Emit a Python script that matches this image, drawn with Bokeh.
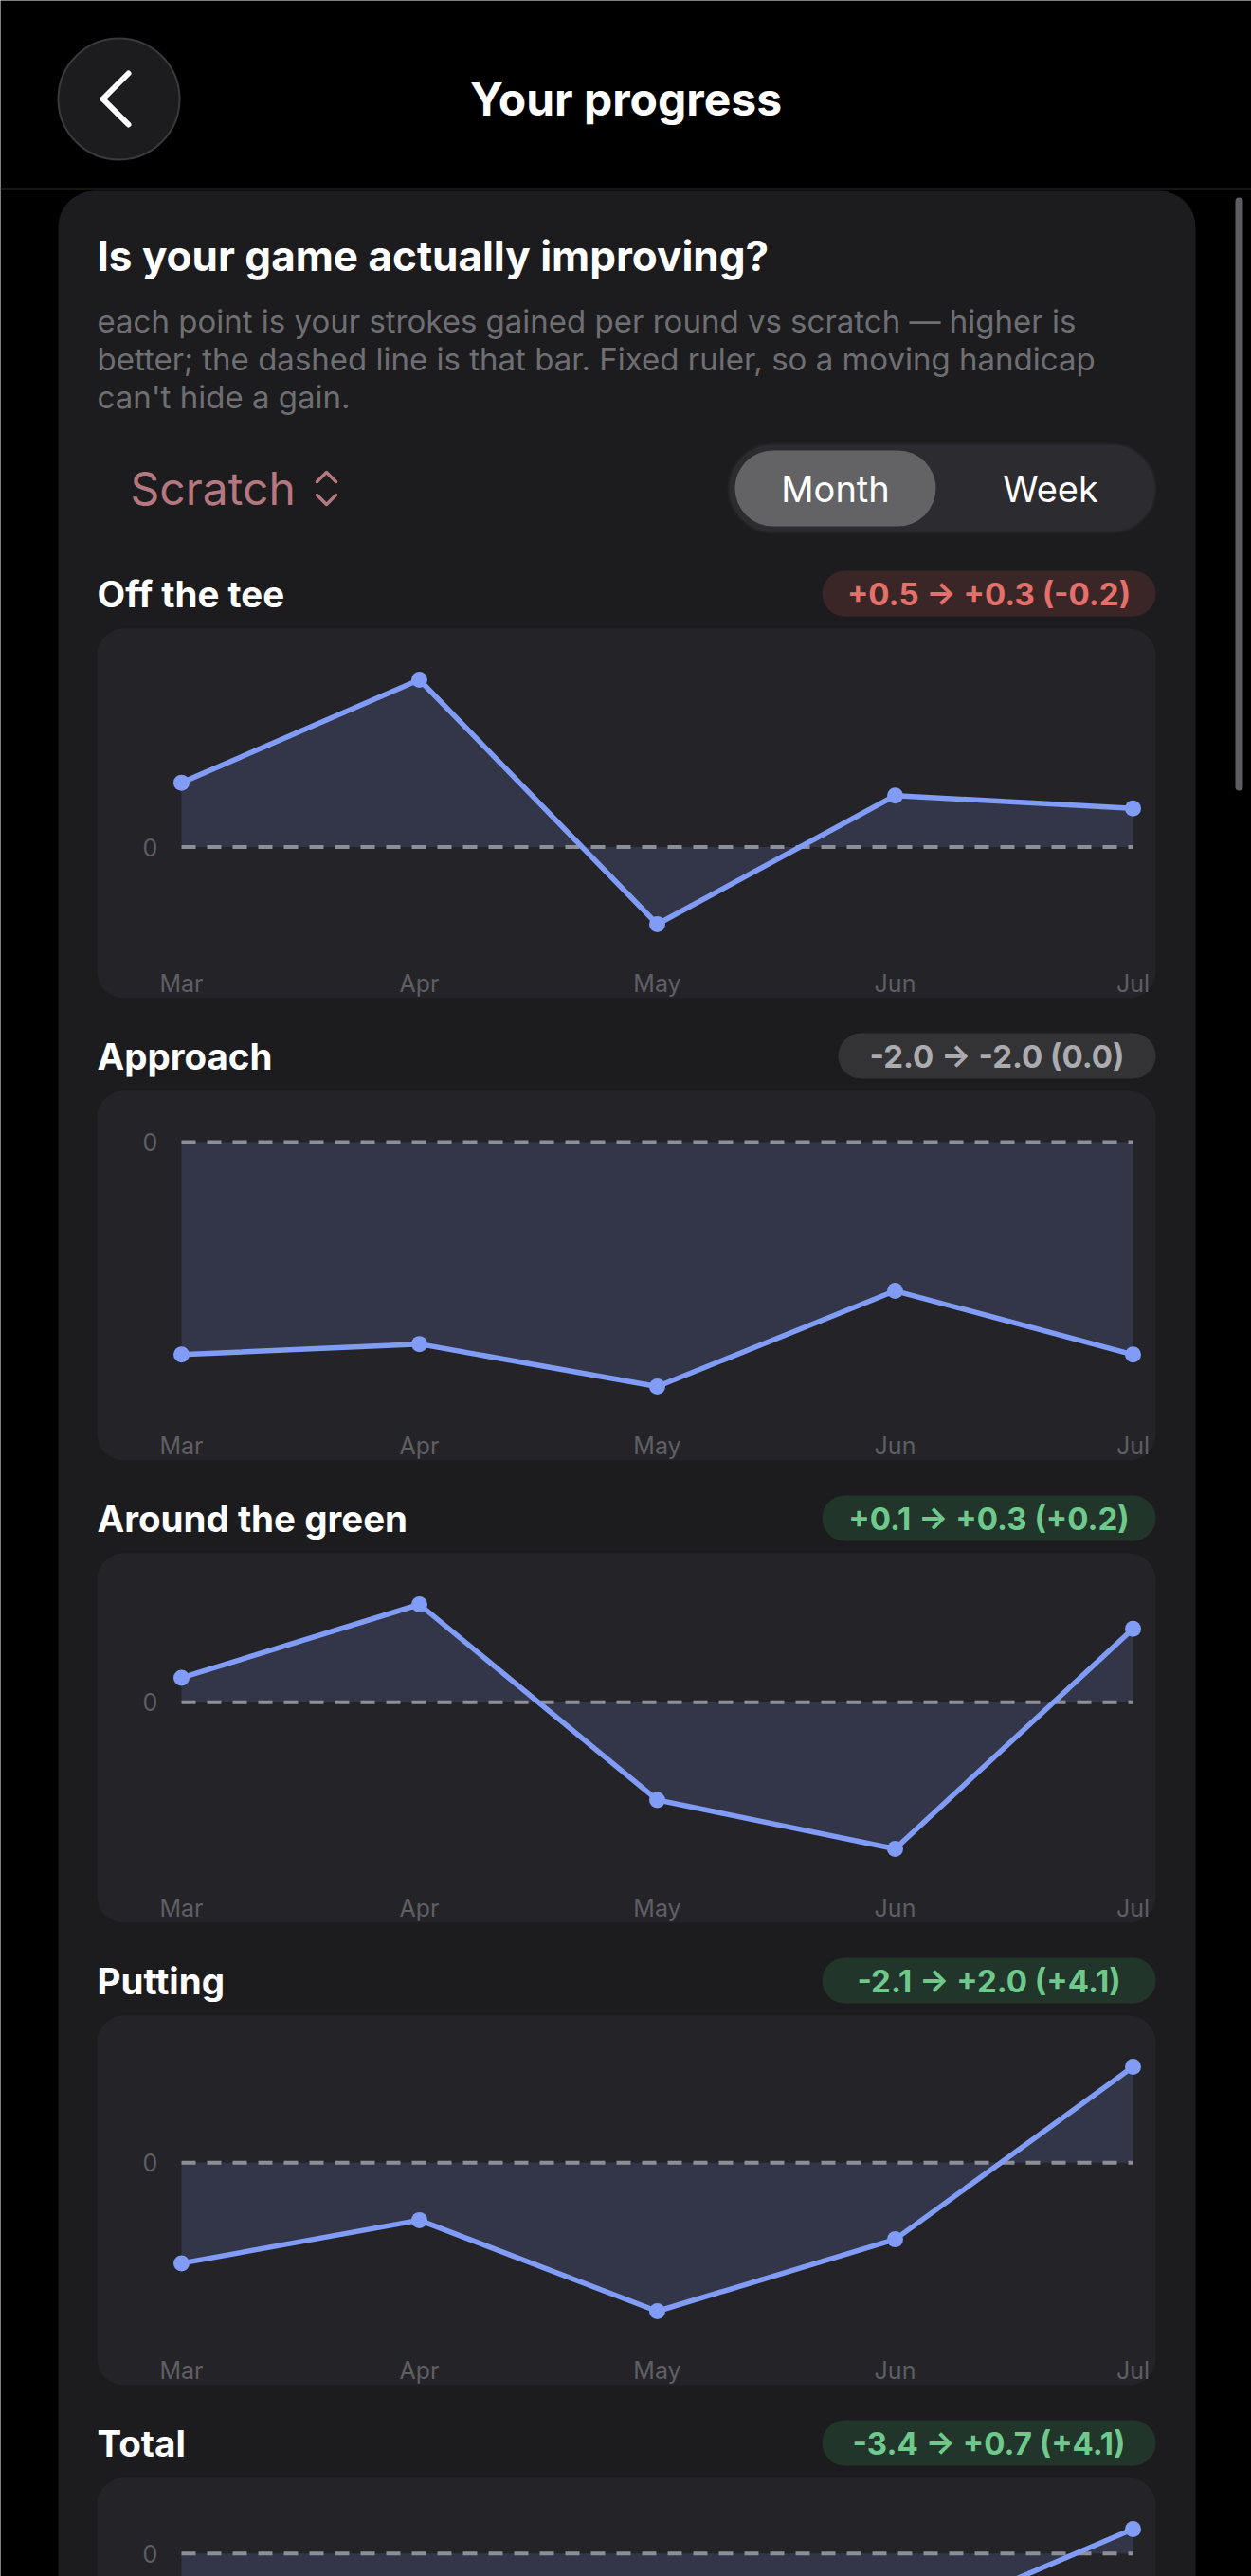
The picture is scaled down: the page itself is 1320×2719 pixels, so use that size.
from bokeh.plotting import figure
from bokeh.models import Range1d
from bokeh.embed import file_html
from bokeh.resources import INLINE
from bokeh.core.properties import value

# ---------------- data ----------------
months = ["Mar", "Apr", "May", "Jun", "Jul"]
section_names = ["Off the tee", "Approach", "Around the green", "Putting", "Total"]
off_the_tee = [0.5, 1.3, -0.6, 0.4, 0.3]
approach = [-2.0, -1.9, -2.3, -1.4, -2.0]
around_the_green = [0.1, 0.4, -0.4, -0.6, 0.3]
putting = [-2.1, -1.2, -3.1, -1.6, 2.0]
total = [-3.4, -1.4, -6.3, -2.2, 0.7]
badge_labels = ["+0.5 → +0.3 (-0.2)", "-2.0 → -2.0 (0.0)", "+0.1 → +0.3 (+0.2)",
                "-2.1 → +2.0 (+4.1)", "-3.4 → +0.7 (+4.1)"]
zero_label = "0"
series = [off_the_tee, approach, around_the_green, putting, total]

# ---------------- layout constants ----------------
W, H = 1320, 2719
FONT = value("Inter")
CARD = "#1c1c1e"
PANEL = "#242428"
LINE = "#809cf6"
FILL = "#323648"

p = figure(width=W, height=H, x_range=Range1d(0, W), y_range=Range1d(H, 0),
           output_backend="svg", toolbar_location=None, min_border=0,
           x_axis_location=None, y_axis_location=None)
p.grid.visible = False
p.outline_line_color = None
p.background_fill_color = "#000000"
p.border_fill_color = "#000000"

# card
p.quad(left=[61], right=[1261], top=[201], bottom=[3000], border_radius=38,
       fill_color=CARD, line_color=None)
# scrollbar
p.quad(left=[1303], right=[1311], top=[208], bottom=[834], border_radius=4,
       fill_color="#5e5e62", line_color=None)

# header
p.segment(x0=[0], y0=[199], x1=[W], y1=[199], line_color="#2c2c2e", line_width=2)
p.circle(x=[125], y=[104], radius=64, fill_color="#1c1c1e", line_color="#3a3a3c", line_width=2)
p.line(x=[135, 108, 135], y=[77, 104, 131], line_color="white", line_width=6,
       line_cap="round", line_join="round")
p.text(x=[660], y=[104], text=["Your progress"], text_font=FONT, text_font_size="48px",
       text_font_style="bold", text_color="white", text_align="center", text_baseline="middle")

# card header
p.text(x=[102], y=[269], text=["Is your game actually improving?"], text_font=FONT,
       text_font_size="44px", text_font_style="bold", text_color="white",
       text_baseline="middle")
desc = ["each point is your strokes gained per round vs scratch — higher is",
        "better; the dashed line is that bar. Fixed ruler, so a moving handicap",
        "can't hide a gain."]
p.text(x=[102] * 3, y=[338, 378, 418], text=desc, text_font=FONT, text_font_size="33px",
       text_color="#6e6e73", text_baseline="middle")

# scratch selector
ROSE = "#b57880"
p.text(x=[137], y=[515], text=["Scratch"], text_font=FONT, text_font_size="48px",
       text_color=ROSE, text_baseline="middle")
p.line(x=[334, 344, 354], y=[508, 498, 508], line_color=ROSE, line_width=3.5,
       line_cap="round", line_join="round")
p.line(x=[334, 344, 354], y=[522, 532, 522], line_color=ROSE, line_width=3.5,
       line_cap="round", line_join="round")

# segmented control
p.quad(left=[768], right=[1219], top=[468], bottom=[562], border_radius=47,
       fill_color="#2c2c30", line_color="#232326", line_width=2)
p.quad(left=[775], right=[987], top=[475], bottom=[555], border_radius=40,
       fill_color="#636366", line_color=None)
p.text(x=[881, 1108], y=[515, 515], text=["Month", "Week"], text_font=FONT,
       text_font_size="38px", text_color="white", text_align="center", text_baseline="middle")

# month x scale: index 0 -> 191px, step 251px
X0, XSTEP = 191, 251
p.extra_x_ranges["months"] = Range1d(-X0 / XSTEP, (W - X0) / XSTEP)
idx = list(range(len(months)))

tones = {"neg": ("#3b2627", "#e3706b"), "flat": ("#333336", "#ababb0"),
         "pos": ("#22352a", "#6fc98c")}

for k, (name, vals, badge) in enumerate(zip(section_names, series, badge_labels)):
    top = 663 + 488 * k
    # section title
    p.text(x=[102], y=[top - 37], text=[name], text_font=FONT, text_font_size="38.5px",
           text_font_style="bold", text_color="white", text_baseline="middle")
    # badge
    tone = "pos" if "(+" in badge else ("neg" if "(-" in badge else "flat")
    bg, fg = tones[tone]
    bw = 46 + 17.0 * len(badge)
    p.quad(left=[1219 - bw], right=[1219], top=[top - 61], bottom=[top - 13],
           border_radius=24, fill_color=bg, line_color=None)
    p.text(x=[1219 - bw / 2], y=[top - 37], text=[badge], text_font=FONT,
           text_font_size="33px", text_font_style="bold", text_color=fg,
           text_align="center", text_baseline="middle")
    # panel
    p.quad(left=[102], right=[1219], top=[top], bottom=[top + 390], border_radius=28,
           fill_color=PANEL, line_color=None)

    # chart y scale: max(vals,0) -> top+54, min(vals,0) -> top+312
    vmax = max(max(vals), 0)
    vmin = min(min(vals), 0)
    s = (vmax - vmin) / 258.0
    end = vmax + (top + 54) * s
    rname = f"c{k}"
    p.extra_y_ranges[rname] = Range1d(end - H * s, end)

    p.varea(x=idx, y1=vals, y2=[0] * len(vals), fill_color=FILL,
            x_range_name="months", y_range_name=rname)
    p.segment(x0=[0], y0=[0], x1=[len(vals) - 1], y1=[0], line_color="#8e8e96",
              line_width=4, line_dash="15 12", x_range_name="months", y_range_name=rname)
    p.line(x=idx, y=vals, line_color=LINE, line_width=5.5, line_join="round",
           x_range_name="months", y_range_name=rname)
    p.scatter(x=idx, y=vals, size=17, fill_color=LINE, line_color=None,
              x_range_name="months", y_range_name=rname)
    p.text(x=[158], y=[0], text=[zero_label], text_font=FONT, text_font_size="25px",
           text_color="#5e5e64", text_align="center", text_baseline="middle",
           y_range_name=rname)
    label_y = top + 374
    if label_y + 15 < H:  # month labels of the last (scrolled) panel lie below the view
        p.text(x=idx, y=[label_y] * len(months), text=months, text_font=FONT,
               text_font_size="25px", text_color="#5e5e64", text_align="center",
               text_baseline="middle", x_range_name="months")

open("out.html", "w").write(file_html(p, INLINE))
